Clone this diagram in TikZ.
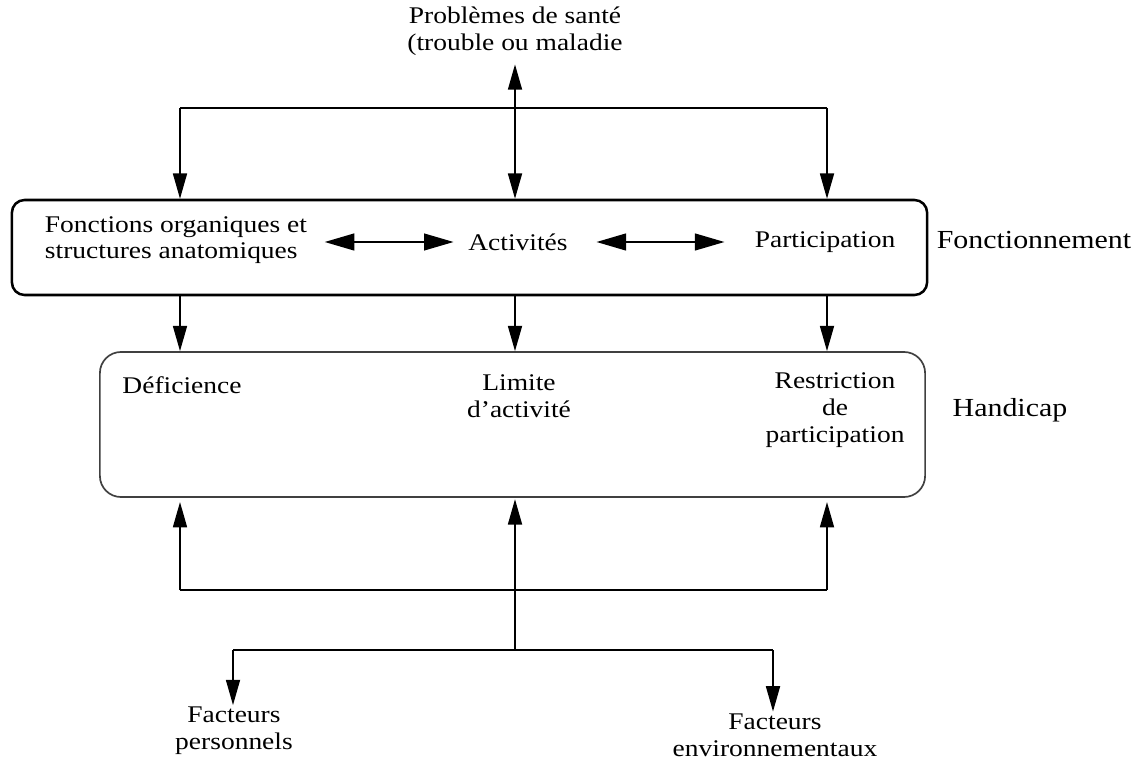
\documentclass[tikz,border=0pt]{standalone}
\usepackage{fontspec}
\setmainfont{Liberation Serif}[FakeStretch=1.15]
\usetikzlibrary{arrows.meta}

\begin{document}
\begin{tikzpicture}[
  x=0.025cm, y=-0.025cm,
  line width=1.1pt, >={Triangle[length=18pt,width=10pt]},
  txt/.style={inner sep=0pt,align=center,font=\fontsize{17}{19}\selectfont},
  otxt/.style={inner sep=0pt,font=\fontsize{18.5}{21}\selectfont},
  cadre/.style={draw,line width=1.8pt,rounded corners=9pt,inner sep=0pt},
  cadreh/.style={draw=black!75,line width=1.2pt,rounded corners=15pt,inner sep=0pt},
  big/.style={{Triangle[length=21pt,width=12pt]}-{Triangle[length=21pt,width=12pt]}}
]
  \useasboundingbox (0,0) rectangle (1133,761);
  \node[cadre,minimum width=22.875cm,minimum height=2.375cm] (boxF) at (469.5,247.5) {};
  \node[cadreh,minimum width=20.625cm,minimum height=3.625cm] (boxH) at (512.5,424.5) {};
  \node[txt] (sante) at (515,31) {Problèmes de santé\\(trouble ou maladie};
  \node[txt,align=left] (fonct) at (176,240) {Fonctions organiques et\\structures anatomiques};
  \node[txt] (activ) at (518,242) {Activités};
  \node[txt] (partic) at (825,242) {Participation};
  \node[otxt] (fonctionnement) at (1034,240) {Fonctionnement};
  \node[txt] (defic) at (182,385) {Déficience};
  \node[txt] (limite) at (519,396) {Limite\\d'activité};
  \node[txt] (restr) at (835,410) {Restriction\\de\\participation};
  \node[otxt] (handicap) at (1010,410) {Handicap};
  \node[txt] (fperso) at (234,731) {Facteurs\\personnels};
  \node[txt] (fenv) at (775,735) {Facteurs\\environnementaux};
  \coordinate (hg) at (180,108);
  \coordinate (hd) at (827,108);
  \coordinate (bg) at (180,590);
  \coordinate (bd) at (827,590);
  \coordinate (bm) at (515,650);
  \coordinate (pg) at (233,650);
  \coordinate (pd) at (773,650);
  \draw[<->,shorten <=6pt] (sante.south) -- (sante.south |- boxF.north);
  \draw (hg) -- (hd);
  \draw[->] (hg) -- (hg |- boxF.north);
  \draw[->] (hd) -- (hd |- boxF.north);
  \draw[big,shorten <=12pt,shorten >=10pt] (fonct.east |- activ.west) -- (activ.west);
  \draw[big,shorten <=20pt,shorten >=21pt] (activ.east) -- (partic.west);
  \draw[->] (boxF.south -| hg) -- (boxH.north -| hg);
  \draw[->] (boxF.south -| sante.south) -- (boxH.north -| sante.south);
  \draw[->] (boxF.south -| hd) -- (boxH.north -| hd);
  \draw (bg) -- (bd);
  \draw[->,shorten >=3pt] (bg) -- (bg |- boxH.south);
  \draw[->,shorten >=3pt] (bd) -- (bd |- boxH.south);
  \draw[->,shorten >=1pt] (bm) -- (bm |- boxH.south);
  \draw (pg) -- (pd);
  \draw[->,shorten >=1pt] (pg) -- (pg |- fperso.north);
  \draw[->,shorten >=1pt] (pd) -- (pd |- fenv.north);
\end{tikzpicture}
\end{document}
